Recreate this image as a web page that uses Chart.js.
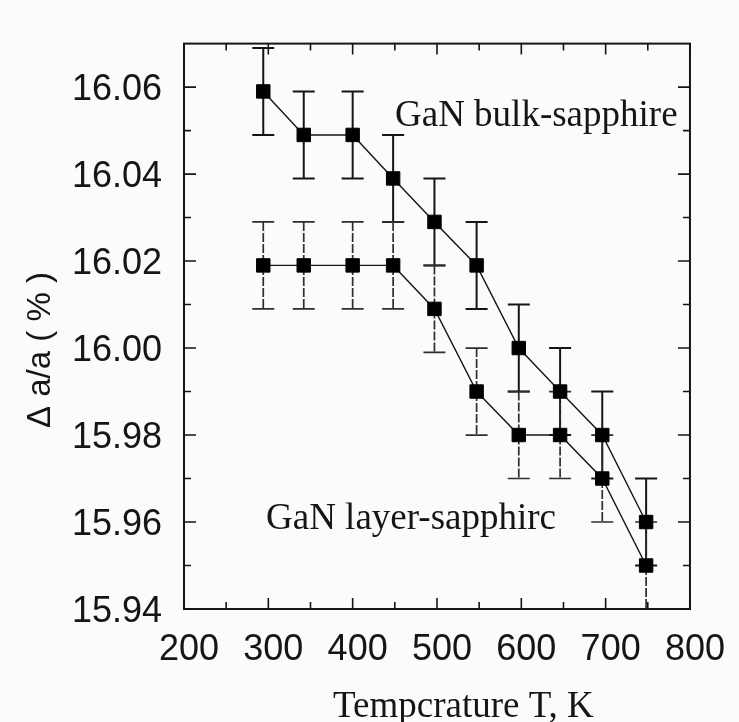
<!DOCTYPE html>
<html>
<head>
<meta charset="utf-8">
<script src="https://cdn.jsdelivr.net/npm/chart.js@4.4.0/dist/chart.umd.min.js"></script>
<style>
  html, body { margin: 0; padding: 0; background: #fbfbfb; }
  #wrap { width: 739px; height: 722px; }
</style>
</head>
<body>
<div id="wrap"><canvas id="chart" width="739" height="722"></canvas></div>
<script>
// temperatures (K) shared by both series
const temps = [294, 342, 400, 448, 497, 547, 597, 646, 696, 748];

const bulkValues = [16.059, 16.049, 16.049, 16.039, 16.029, 16.019, 16.000, 15.990, 15.980, 15.960];
const bulkErrors = [0.01, 0.01, 0.01, 0.01, 0.01, 0.01, 0.01, 0.01, 0.01, 0.01];

const layerValues = [16.019, 16.019, 16.019, 16.019, 16.009, 15.990, 15.980, 15.980, 15.970, 15.950];
const layerErrors = [0.01, 0.01, 0.01, 0.01, 0.01, 0.01, 0.01, 0.01, 0.01, 0.01];

const xTicks = [200, 300, 400, 500, 600, 700, 800];
const xMinorTicks = [250, 350, 450, 550, 650, 750];
const yTicks = [15.94, 15.96, 15.98, 16.00, 16.02, 16.04, 16.06];
const yMinorTicks = [15.95, 15.97, 15.99, 16.01, 16.03, 16.05];

const ink = '#151515';

// pionowe słupki błędów, rysowane pod markerami
const errorBars = {
  id: 'errorBars',
  beforeDatasetsDraw(chart) {
    const { ctx, scales: { x, y } } = chart;
    chart.data.datasets.forEach(ds => {
      ctx.save();
      ctx.strokeStyle = ds.errColor;
      ctx.lineWidth = ds.errWidth;
      ds.data.forEach((p, i) => {
        const px = x.getPixelForValue(p.x);
        const top = y.getPixelForValue(p.y + ds.errors[i]);
        const bot = y.getPixelForValue(p.y - ds.errors[i]);
        ctx.setLineDash(ds.errDash);
        ctx.beginPath();
        ctx.moveTo(px, top);
        ctx.lineTo(px, bot);
        ctx.stroke();
        ctx.setLineDash([]);
        ctx.beginPath();
        ctx.moveTo(px - 11, top); ctx.lineTo(px + 11, top);
        ctx.moveTo(px - 11, bot); ctx.lineTo(px + 11, bot);
        ctx.stroke();
      });
      ctx.restore();
    });
  }
};

// ramka, ticki do środka i napisy
const frame = {
  id: 'frame',
  afterDraw(chart) {
    const { ctx, chartArea: a, scales: { x, y } } = chart;
    ctx.save();
    ctx.strokeStyle = ink;
    ctx.lineWidth = 2;
    ctx.strokeRect(a.left, a.top, a.right - a.left, a.bottom - a.top);

    ctx.lineWidth = 1.6;
    const xt = (vals, len) => vals.forEach(v => {
      const px = x.getPixelForValue(v);
      ctx.beginPath();
      ctx.moveTo(px, a.bottom); ctx.lineTo(px, a.bottom - len);
      ctx.moveTo(px, a.top); ctx.lineTo(px, a.top + len);
      ctx.stroke();
    });
    const yt = (vals, len) => vals.forEach(v => {
      const py = y.getPixelForValue(v);
      ctx.beginPath();
      ctx.moveTo(a.left, py); ctx.lineTo(a.left + len, py);
      ctx.moveTo(a.right, py); ctx.lineTo(a.right - len, py);
      ctx.stroke();
    });
    xt(xTicks, 11); xt(xMinorTicks, 7);
    yt(yTicks, 12); yt(yMinorTicks, 7);

    ctx.fillStyle = ink;
    ctx.font = '37px "Liberation Serif"';
    ctx.textAlign = 'left';
    ctx.textBaseline = 'alphabetic';
    ctx.fillText('GaN bulk-sapphire', a.left + 211, a.top + 82);
    ctx.fillText('GaN layer-sapphirc', a.left + 82, a.top + 485);
    ctx.fillText('Tempcrature T, K', a.left + 149, a.bottom + 108);

    ctx.font = '33px "Liberation Sans"';
    ctx.textAlign = 'center';
    ctx.translate(50, 350);
    ctx.rotate(-Math.PI / 2);
    ctx.fillText('\u0394 a/a ( % )', 0, 0);
    ctx.restore();
  }
};

function initChart() {
  const canvas = document.getElementById('chart');

  new Chart(canvas, {
    type: 'line',
    data: {
      datasets: [
        {
          label: 'GaN bulk-sapphire',
          data: temps.map((t, i) => ({ x: t, y: bulkValues[i] })),
          errors: bulkErrors,
          errColor: ink, errWidth: 2, errDash: [],
        },
        {
          label: 'GaN layer-sapphire',
          data: temps.map((t, i) => ({ x: t, y: layerValues[i] })),
          errors: layerErrors,
          errColor: '#2e2e2e', errWidth: 1.7, errDash: [9, 2],
        }
      ].map(ds => Object.assign(ds, {
        borderColor: ink,
        borderWidth: 1.4,
        backgroundColor: ink,
        pointStyle: 'rect',
        pointRadius: 9.5,
        pointBorderWidth: 1,
        pointBackgroundColor: '#000',
        pointBorderColor: '#000',
        tension: 0,
        clip: false,
      }))
    },
    options: {
      responsive: false,
      animation: false,
      events: [],
      layout: { padding: { top: 41, right: 45, left: 0, bottom: 0 } },
      plugins: {
        legend: { display: false },
        tooltip: { enabled: false },
      },
      scales: {
        x: {
          type: 'linear',
          min: 200,
          max: 800,
          grid: { display: false, drawTicks: false },
          border: { display: false },
          afterBuildTicks: s => { s.ticks = xTicks.map(v => ({ value: v })); },
          afterFit: s => { s.height = 113; },
          ticks: {
            autoSkip: false,
            maxRotation: 0,
            padding: 19,
            labelOffset: 5,
            color: ink,
            font: { family: '"Liberation Sans"', size: 36 },
            callback: v => String(v)
          }
        },
        y: {
          type: 'linear',
          min: 15.94,
          max: 16.07,
          grid: { display: false, drawTicks: false },
          border: { display: false },
          afterBuildTicks: s => { s.ticks = yTicks.map(v => ({ value: v })); },
          afterFit: s => { s.width = 184; },
          ticks: {
            autoSkip: false,
            padding: 22,
            labelOffset: 3,
            color: ink,
            font: { family: '"Liberation Sans"', size: 36 },
            callback: v => Number(v).toFixed(2)
          }
        }
      }
    },
    plugins: [errorBars, frame]
  });
}

document.addEventListener('DOMContentLoaded', () => {
  initChart();
});
</script>
</body>
</html>
